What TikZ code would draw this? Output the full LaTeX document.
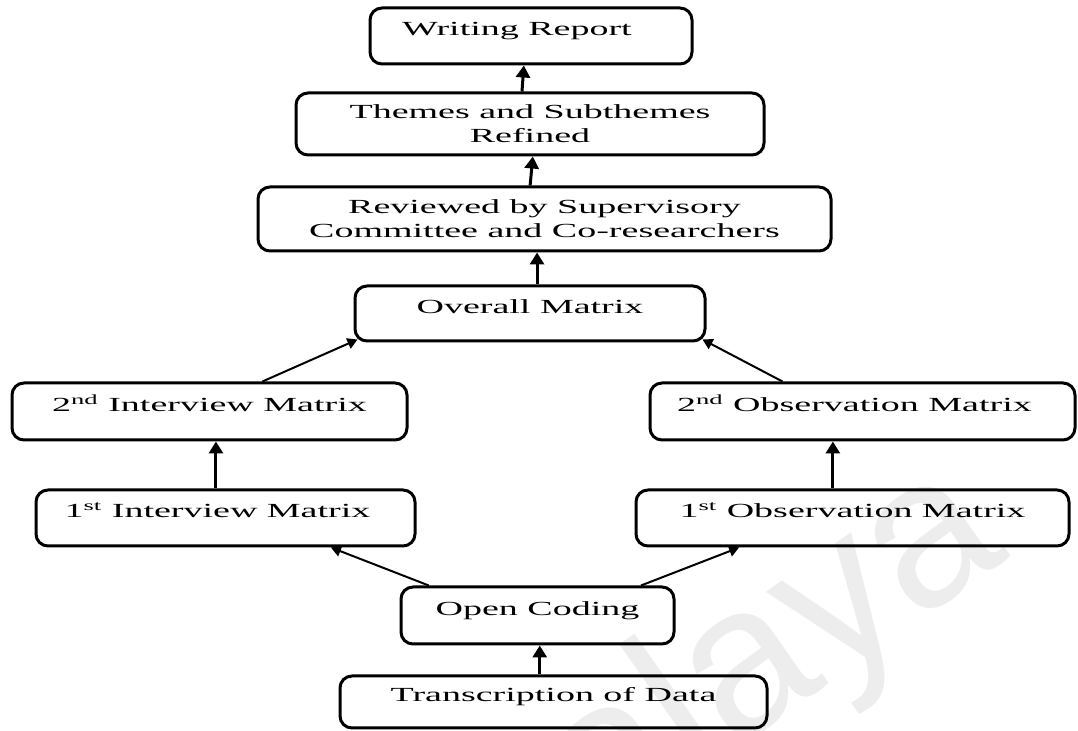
\documentclass[tikz,border=0pt]{standalone}
\usepackage{fontspec}
\setmainfont[FakeStretch=1.9]{Liberation Serif}
\newfontfamily\wmfont{Liberation Sans}
\usetikzlibrary{arrows.meta,calc}

\begin{document}
\begin{tikzpicture}[x=0.5pt,y=-0.5pt,
  box/.style={draw=black, line width=1.5pt, rounded corners=6pt, align=center,
    inner sep=0pt, font=\fontsize{10}{12}\selectfont},
  oneline/.style={text height=7pt, text depth=7pt},
  arr/.style={line width=1.5pt, -{Triangle[width=7pt,length=6pt]}},
  thinarr/.style={line width=1pt, -{Triangle[width=5.5pt,length=5pt]}},
  watermark/.style={text=black!7, font=\wmfont\fontsize{105}{105}\selectfont,
    inner sep=0pt, rotate=35, anchor=base west}]

% canvas
\useasboundingbox (0,0) rectangle (1078,731);
\clip (0,0) rectangle (1078,731);
\fill[white] (0,0) rectangle (1078,731);

% faint background watermark
\node[watermark] (wm) at (456,945) {Malaya};

% process boxes
\node[box, oneline, minimum width=161pt,   minimum height=28pt]   (wr) at (531,36)      {Writing Report\hspace*{14pt}};
\node[box,          minimum width=234pt,   minimum height=31pt]   (ts) at (530,124)     {Themes and Subthemes\\Refined};
\node[box,          minimum width=286.5pt, minimum height=32pt]   (rv) at (544.5,219)   {Reviewed by Supervisory\\Committee and Co-researchers};
\node[box, oneline, minimum width=175pt,   minimum height=27.5pt] (om) at (530,313.5)   {Overall Matrix};
\node[box, oneline, minimum width=197.5pt, minimum height=28.5pt] (i2) at (209.5,411.5) {2\textsuperscript{nd} Interview Matrix};
\node[box, oneline, minimum width=212.5pt, minimum height=28.5pt] (o2) at (862.5,411.5) {2\textsuperscript{nd} Observation Matrix\hspace*{8pt}};
\node[box, oneline, minimum width=189.5pt, minimum height=28pt]   (i1) at (225.5,518)   {1\textsuperscript{st} Interview Matrix\hspace*{8pt}};
\node[box, oneline, minimum width=216.5pt, minimum height=28pt]   (o1) at (852.5,518)   {1\textsuperscript{st} Observation Matrix};
\node[box, oneline, minimum width=136.5pt, minimum height=28.5pt] (oc) at (537.5,615.5) {Open Coding};
\node[box, oneline, minimum width=213.5pt, minimum height=26pt]   (td) at (553.5,702)   {Transcription of Data};

% attachment points
\coordinate (tdT) at ($(td.north west)!0.468!(td.north east)$);
\coordinate (ocL) at ($(oc.north west)!0.106!(oc.north east)$);
\coordinate (ocR) at ($(oc.north west)!0.875!(oc.north east)$);
\coordinate (i1B) at ($(i1.south west)!0.776!(i1.south east)$);
\coordinate (o1B) at ($(o1.south west)!0.240!(o1.south east)$);
\coordinate (i1T) at ($(i1.north west)!0.475!(i1.north east)$);
\coordinate (o1T) at ($(o1.north west)!0.455!(o1.north east)$);
\coordinate (i2T) at ($(i2.north west)!0.633!(i2.north east)$);
\coordinate (o2T) at ($(o2.north west)!0.313!(o2.north east)$);
\coordinate (omT) at ($(om.north west)!0.520!(om.north east)$);
\coordinate (rvT) at ($(rv.north west)!0.475!(rv.north east)$);
\coordinate (tsB) at ($(ts.south west)!0.506!(ts.south east)$);
\coordinate (tsT) at ($(ts.north west)!0.483!(ts.north east)$);
\coordinate (wrB) at ($(wr.south west)!0.478!(wr.south east)$);

% connectors
\draw[arr] (tdT) -- (tdT |- oc.south);
\draw[thinarr] (ocL) -- (i1B);
\draw[thinarr] (ocR) -- (o1B);
\draw[arr] (i1T) -- (i1T |- i2.south);
\draw[arr] (o1T) -- (o1T |- o2.south);
\draw[thinarr] (i2T) -- ([shift={(2pt,1.5pt)}]om.south west);
\draw[thinarr] (o2T) -- ([shift={(-2pt,1.5pt)}]om.south east);
\draw[arr] (omT) -- (omT |- rv.south);
\draw[arr] (rvT) -- (tsB);
\draw[arr] (tsT) -- (wrB);
\end{tikzpicture}
\end{document}
